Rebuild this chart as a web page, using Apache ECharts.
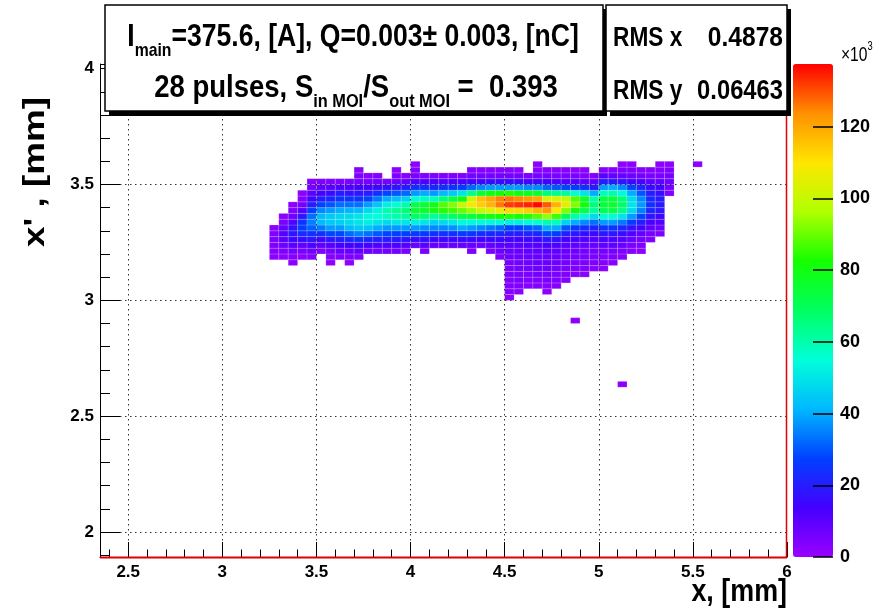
<!DOCTYPE html>
<html><head><meta charset="utf-8">
<script src="https://cdn.jsdelivr.net/npm/echarts@6/dist/echarts.min.js"></script>
<style>html,body{margin:0;padding:0;background:#fff}#c{width:874px;height:614px}</style>
</head><body><div id="c"></div>
<script>
// ---- histogram binning (lower edges) ----
const xBinLow = [3.25,3.30,3.35,3.40,3.45,3.50,3.55,3.60,3.65,3.70,3.75,3.80,3.85,3.90,3.95,4.00,4.05,4.10,4.15,4.20,4.25,4.30,4.35,4.40,4.45,4.50,4.55,4.60,4.65,4.70,4.75,4.80,4.85,4.90,4.95,5.00,5.05,5.10,5.15,5.20,5.25,5.30,5.35];
const yBinLow = [3.000,3.025,3.050,3.075,3.100,3.125,3.150,3.175,3.200,3.225,3.250,3.275,3.300,3.325,3.350,3.375,3.400,3.425,3.450,3.475,3.500,3.525,3.550,3.575];
const binW = 0.05, binH = 0.025;
// counts in units of 10^3; one row per x bin, values from y=3.000 upwards
const counts = [
[0,0,0,0,0,0,0,2,3,4,5,4,2,0,0,0,0,0,0,0,0,0,0,0],
[0,0,0,0,0,0,0,2,4,7,10,11,9,5,2,0,0,0,0,0,0,0,0,0],
[0,0,0,0,0,0,2,3,6,10,15,18,17,12,7,4,2,0,0,0,0,0,0,0],
[0,0,0,0,0,0,0,2,5,9,16,23,27,25,18,11,6,3,2,0,0,0,0,0],
[0,0,0,0,0,0,0,3,7,12,18,24,31,35,33,27,20,15,10,6,3,0,0,0],
[0,0,0,0,0,0,0,0,4,9,15,24,34,42,42,36,28,20,14,9,4,0,0,0],
[0,0,0,0,0,0,2,3,6,11,18,28,38,45,45,38,30,22,16,10,4,0,0,0],
[0,0,0,0,0,0,0,4,8,13,20,28,38,46,47,40,33,25,20,12,4,0,0,0],
[0,0,0,0,0,0,2,4,8,14,22,32,42,48,48,41,33,25,18,12,5,0,0,0],
[0,0,0,0,0,0,0,4,9,15,24,35,45,50,50,42,33,25,18,14,6,4,3,0],
[0,0,0,0,0,0,0,0,7,13,22,33,44,52,54,48,38,28,20,13,6,3,0,0],
[0,0,0,0,0,0,0,0,6,12,20,30,40,50,55,53,44,34,24,15,7,3,0,0],
[0,0,0,0,0,0,0,0,6,12,20,28,38,48,57,60,52,40,28,17,6,0,0,0],
[0,0,0,0,0,0,0,0,6,12,19,27,38,50,60,63,56,43,30,18,8,4,2,0],
[0,0,0,0,0,0,0,0,5,11,18,27,38,50,62,66,60,46,32,20,9,3,0,0],
[0,0,0,0,0,0,0,0,0,8,16,26,38,52,68,75,72,55,38,24,12,5,3,2],
[0,0,0,0,0,0,0,0,5,10,17,26,37,50,66,76,75,58,40,24,12,4,0,0],
[0,0,0,0,0,0,0,0,0,8,15,24,36,46,62,80,80,58,38,22,13,4,0,0],
[0,0,0,0,0,0,0,0,0,8,15,24,36,48,66,84,88,66,42,24,12,4,0,0],
[0,0,0,0,0,0,0,0,0,8,15,24,37,50,68,86,92,72,45,25,13,4,0,0],
[0,0,0,0,0,0,0,0,0,8,16,26,40,54,72,90,100,80,50,27,13,4,0,0],
[0,0,0,0,0,0,0,0,4,8,15,25,38,54,74,94,108,102,64,32,14,6,3,0],
[0,0,0,0,0,0,0,0,0,7,14,23,36,54,78,100,114,116,75,36,15,6,3,0],
[0,0,0,0,0,0,0,0,5,9,15,22,34,54,80,104,118,120,80,38,16,6,3,0],
[0,0,0,0,0,0,0,4,7,10,15,22,32,54,82,108,126,125,82,38,16,6,3,0],
[2,3,4,4,5,5,6,7,8,10,14,20,28,52,84,112,132,126,84,38,16,6,3,0],
[0,3,4,5,5,6,6,7,8,10,14,20,28,52,82,112,133,124,80,38,16,6,2,0],
[0,0,3,4,5,6,7,8,9,11,15,21,30,54,84,114,134,122,78,36,14,5,0,0],
[0,0,3,4,6,7,8,8,9,11,15,22,32,56,88,118,137,120,76,36,15,6,3,2],
[0,2,3,5,6,7,8,8,10,13,18,28,40,60,94,122,129,104,66,32,14,6,3,0],
[0,0,3,4,5,6,7,8,9,12,17,26,40,58,86,110,118,104,64,30,13,5,3,0],
[0,0,0,3,4,5,6,7,8,10,14,20,30,46,70,92,105,100,62,28,12,5,3,0],
[0,0,0,0,3,4,5,6,7,9,13,18,26,40,60,80,92,88,56,26,11,5,2,0],
[0,0,0,0,3,4,5,5,6,8,12,16,24,36,54,72,80,76,50,24,10,4,2,0],
[0,0,0,0,0,3,4,5,6,8,11,15,22,33,48,62,66,60,40,20,9,4,0,0],
[0,0,0,0,0,2,3,4,6,9,12,18,25,38,55,70,74,72,58,38,20,10,3,0],
[0,0,0,0,0,0,3,4,6,9,12,18,25,38,56,72,76,74,60,40,20,9,3,0],
[0,0,0,0,0,0,0,3,5,8,11,16,22,34,50,64,68,66,54,36,18,8,4,2],
[0,0,0,0,0,0,0,0,3,5,8,12,17,26,38,48,50,48,40,28,15,7,4,2],
[0,0,0,0,0,0,0,0,2,4,6,9,13,20,28,35,38,36,30,22,13,6,3,0],
[0,0,0,0,0,0,0,0,0,0,4,6,9,13,18,22,24,23,20,16,10,5,3,0],
[0,0,0,0,0,0,0,0,0,0,0,4,7,11,15,18,19,19,17,14,9,5,3,2],
[0,0,0,0,0,0,0,0,0,0,0,0,0,0,0,0,0,0,4,6,7,6,4,2]
];
// isolated bins: [x low edge, y low edge, count]
const outliers = [[5.50,3.575,2],[4.85,2.900,2],[5.10,2.625,2]];
// axis ranges
const xRange = [2.35, 6.0];
const yRange = [1.892, 4.02];
const zRange = [0, 137.5];
const zTickStep = 20;
const palette = ['#9900ff','#4400ff','#0040ff','#00b8ff','#00ffd8','#00ff60','#14ff00','#b0ff00','#ffe600','#ff9000','#ff0000'];

const FONT = "'Liberation Sans',Arial,sans-serif";

const data = [];
xBinLow.forEach((x, i) => {
  yBinLow.forEach((y, j) => {
    const v = counts[i][j];
    if (v > 0) data.push([x + binW / 2, y + binH / 2, v]);
  });
});
outliers.forEach(o => data.push([o[0] + binW / 2, o[1] + binH / 2, o[2]]));

const chart = echarts.init(document.getElementById('c'), null, {renderer: 'canvas', width: 874, height: 614});

const labelStyle = {color: '#000', fontFamily: FONT, fontWeight: 'bold', fontSize: 17};
const gridLine = {show: true, lineStyle: {color: '#333', width: 1, type: [1.5, 3.5]}};
const boldText = (txt, x, y, size, align, sx) => ({type: 'text', z: 60, x: x, y: y, scaleX: sx,
  style: {text: txt, fontFamily: FONT, fontWeight: 'bold', fontSize: size, fill: '#000', align: align, verticalAlign: 'middle'}});
const richTitle = {
  b: {fontFamily: FONT, fontWeight: 'bold', fontSize: 32, lineHeight: 32, verticalAlign: 'top', fill: '#000'},
  s: {fontFamily: FONT, fontWeight: 'bold', fontSize: 19, lineHeight: 19, verticalAlign: 'top', padding: [20, 0, 0, 0], fill: '#000'}
};

const option = {
  animation: false,
  backgroundColor: '#fff',
  grid: [
    {left: 100, top: 64, width: 687, height: 493, show: false},
    {left: 793, top: 64, width: 40, height: 493, show: false}
  ],
  xAxis: [
    {gridIndex: 0, type: 'value', min: xRange[0], max: xRange[1], splitNumber: 7, z: 5,
     axisLine: {show: true, onZero: false, lineStyle: {color: '#000', width: 1}},
     axisTick: {show: true, inside: true, length: 15, lineStyle: {color: '#000'}},
     minorTick: {show: true, splitNumber: 5, length: 7.5, lineStyle: {color: '#000'}},
     splitLine: Object.assign({showMinLine: false, showMaxLine: false}, gridLine),
     axisLabel: Object.assign({margin: 7, showMinLabel: false, showMaxLabel: true}, labelStyle)},
    {gridIndex: 1, type: 'value', min: 0, max: 1, show: false}
  ],
  yAxis: [
    {gridIndex: 0, type: 'value', min: yRange[0], max: yRange[1], splitNumber: 4, z: 5,
     axisLine: {show: true, onZero: false, lineStyle: {color: '#000', width: 1}},
     axisTick: {show: true, inside: true, length: 20, lineStyle: {color: '#000'}},
     minorTick: {show: true, splitNumber: 5, length: 10, lineStyle: {color: '#000'}},
     splitLine: Object.assign({showMinLine: false, showMaxLine: false}, gridLine),
     axisLabel: Object.assign({margin: 6, showMinLabel: false, showMaxLabel: false}, labelStyle)},
    {gridIndex: 1, type: 'value', position: 'right', min: zRange[0], max: zRange[1], interval: zTickStep, z: 30,
     axisLine: {show: false, onZero: false},
     axisTick: {show: true, inside: true, length: 20, lineStyle: {color: '#000', width: 1.5}},
     splitLine: {show: false},
     axisLabel: Object.assign({margin: 7, showMaxLabel: false}, labelStyle, {fontSize: 18})}
  ],
  visualMap: {
    type: 'continuous', min: zRange[0], max: zRange[1], dimension: 2, seriesIndex: 0, z: 1,
    calculable: false, realtime: false, hoverLink: false,
    left: 793, top: 64, itemWidth: 40, itemHeight: 493, padding: 0,
    inRange: {color: palette}, textStyle: {color: 'transparent'}
  },
  series: [{
    type: 'custom', xAxisIndex: 0, yAxisIndex: 0, data: data, encode: {x: 0, y: 1}, clip: true, z: 2,
    renderItem: function (params, api) {
      const x = api.value(0), y = api.value(1);
      const p0 = api.coord([x - binW / 2, y + binH / 2]);
      const p1 = api.coord([x + binW / 2, y - binH / 2]);
      return {type: 'rect', shape: {x: p0[0], y: p0[1], width: p1[0] - p0[0], height: p1[1] - p0[1]},
              style: {fill: api.visual('color'), stroke: 'rgba(255,255,255,0.28)', lineWidth: 0.6}};
    }
  }],
  graphic: [
    // frame (red) bottom + right
    {type: 'line', z: 40, shape: {x1: 100, y1: 557.5, x2: 787, y2: 557.5}, style: {stroke: '#e00000', lineWidth: 2}},
    {type: 'line', z: 40, shape: {x1: 786.5, y1: 112, x2: 786.5, y2: 558}, style: {stroke: '#e00000', lineWidth: 1.5}},
    // title box
    {type: 'rect', z: 50, shape: {x: 109, y: 9, width: 498, height: 107}, style: {fill: '#000'}},
    {type: 'rect', z: 51, shape: {x: 105, y: 5, width: 498, height: 106}, style: {fill: '#fff', stroke: '#000', lineWidth: 1.5}},
    // stats box
    {type: 'rect', z: 50, shape: {x: 610, y: 9, width: 181, height: 107}, style: {fill: '#000'}},
    {type: 'rect', z: 51, shape: {x: 606, y: 5, width: 181, height: 106}, style: {fill: '#fff', stroke: '#000', lineWidth: 1.5}},
    {type: 'text', z: 60, x: 353, y: 37, scaleX: 0.83, style: {
      text: '{b|I}{s|main}{b|=375.6, [A], Q=0.003± 0.003, [nC]}', align: 'center', verticalAlign: 'middle', rich: richTitle}},
    {type: 'text', z: 60, x: 356, y: 88, scaleX: 0.86, style: {
      text: '{b|28 pulses, S}{s|in MOI}{b|/S}{s|out MOI}{b| =  0.393}', align: 'center', verticalAlign: 'middle', rich: richTitle}},
    boldText('RMS x', 613, 39, 27, 'left', 0.84),
    boldText('0.4878', 783, 39, 27, 'right', 0.91),
    boldText('RMS y', 613, 92, 27, 'left', 0.84),
    boldText('0.06463', 783, 92, 27, 'right', 0.88),
    // colour-axis multiplier
    {type: 'text', z: 60, x: 841, y: 53, scaleX: 0.78, style: {
      text: '{m|×10}{p|3}', align: 'left', verticalAlign: 'middle',
      rich: {m: {fontFamily: FONT, fontSize: 20, lineHeight: 24, verticalAlign: 'bottom', fill: '#000'},
             p: {fontFamily: FONT, fontSize: 12, lineHeight: 12, verticalAlign: 'top', fill: '#000'}}}},
    // axis titles
    {type: 'text', z: 60, x: 787, y: 608, scaleX: 0.84, style: {text: 'x, [mm]', fontFamily: FONT, fontWeight: 'bold', fontSize: 32, fill: '#000', align: 'right', verticalAlign: 'bottom'}},
    {type: 'text', z: 60, x: 36, y: 172, rotation: Math.PI / 2, scaleX: 1.15, scaleY: 0.9, style: {text: "x' , [mm]", fontFamily: FONT, fontWeight: 'bold', fontSize: 32, fill: '#000', align: 'center', verticalAlign: 'middle'}}
  ]
};
chart.setOption(option);
</script>
</body></html>
